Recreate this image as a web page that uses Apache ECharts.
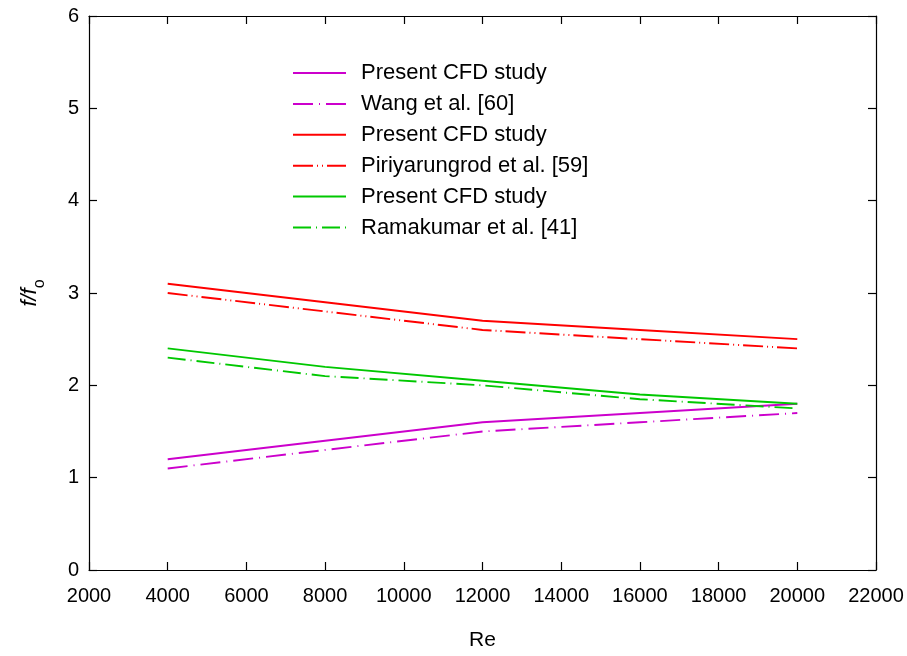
<!DOCTYPE html>
<html>
<head>
<meta charset="utf-8">
<script src="https://cdn.jsdelivr.net/npm/echarts@6/dist/echarts.min.js"></script>
<style>
  html, body { margin: 0; padding: 0; background: #fff; }
  #chart { width: 907px; height: 656px; }
</style>
</head>
<body>
<div id="chart"></div>
<script>
// Reynolds numbers at which f/fo was evaluated
const reValues = [4000, 8000, 12000, 16000, 20000];

// Friction factor ratio, three geometries, CFD vs. correlations
const cfdPurple = [1.2, 1.4, 1.6, 1.7, 1.8];
const wang60 = [1.1, 1.3, 1.5, 1.6, 1.7];
const cfdRed = [3.1, 2.9, 2.7, 2.6, 2.5];
const piriyarungrod59 = [3.0, 2.8, 2.6, 2.5, 2.4];
const cfdGreen = [2.4, 2.2, 2.05, 1.9, 1.8];
const ramakumar41 = [2.3, 2.1, 2.0, 1.85, 1.75];

// Legend labels (trailing spaces keep repeated labels distinct; trimmed on display)
const seriesNames = [
  'Present CFD study',
  'Wang et al. [60]',
  'Present CFD study ',
  'Piriyarungrod et al. [59]',
  'Present CFD study  ',
  'Ramakumar et al. [41]'
];

const xTicks = { min: 2000, max: 22000, step: 2000 };
const yTicks = { min: 0, max: 6, step: 1 };

const PURPLE = '#cc00cc';
const RED = '#ff0000';
const GREEN = '#00c800';
const FONT = '"Liberation Sans", Arial, sans-serif';

function pairs(ys) { return reValues.map((x, i) => [x, ys[i]]); }

function makeSeries(name, ys, color, dash) {
  return {
    name: name,
    type: 'line',
    data: pairs(ys),
    symbol: 'none',
    showSymbol: false,
    animation: false,
    itemStyle: { color: color },
    lineStyle: { color: color, width: 1.9, type: dash }
  };
}

const chart = echarts.init(document.getElementById('chart'), null, { renderer: 'canvas' });

const tickStyle = { show: true, inside: true, length: 8, lineStyle: { color: '#000', width: 1.2 } };
const lineStyleAxis = { show: true, onZero: false, lineStyle: { color: '#000', width: 1.2 } };

chart.setOption({
  backgroundColor: '#fff',
  animation: false,
  textStyle: { fontFamily: FONT },
  grid: { left: 89, right: 31, top: 16, bottom: 86, containLabel: false, outerBoundsMode: 'none' },
  legend: {
    orient: 'vertical',
    left: 292,
    top: 62,
    padding: 0,
    itemWidth: 53,
    itemHeight: 14,
    itemGap: 8.9,
    data: seriesNames,
    itemStyle: { opacity: 0, borderWidth: 0 },
    formatter: function (n) { return n.trim(); },
    textStyle: { fontFamily: FONT, fontSize: 22, lineHeight: 22, color: '#000', padding: [0, 0, 0, 10] },
    selectedMode: false
  },
  xAxis: [
    {
      type: 'value',
      min: xTicks.min, max: xTicks.max, interval: xTicks.step,
      name: 'Re',
      nameLocation: 'middle',
      nameGap: 60,
      nameTextStyle: { fontFamily: FONT, fontSize: 21, color: '#000' },
      axisLine: lineStyleAxis,
      axisTick: tickStyle,
      axisLabel: { margin: 16, fontFamily: FONT, fontSize: 20, color: '#000', formatter: function (v) { return String(v); } },
      splitLine: { show: false }
    },
    {
      type: 'value', position: 'top',
      min: xTicks.min, max: xTicks.max, interval: xTicks.step,
      axisLine: lineStyleAxis,
      axisTick: tickStyle,
      axisLabel: { show: false },
      splitLine: { show: false }
    }
  ],
  yAxis: [
    {
      type: 'value',
      min: yTicks.min, max: yTicks.max, interval: yTicks.step,
      name: '{i|f/f}{s|o}',
      nameLocation: 'middle',
      nameRotate: 90,
      nameGap: 48,
      nameTextStyle: {
        color: '#000',
        rich: {
          i: { fontFamily: FONT, fontSize: 22, fontStyle: 'italic', color: '#000', verticalAlign: 'bottom' },
          s: { fontFamily: FONT, fontSize: 16, color: '#000', verticalAlign: 'bottom', padding: [0, 0, -7, 0] }
        }
      },
      axisLine: lineStyleAxis,
      axisTick: tickStyle,
      axisLabel: { margin: 10, fontFamily: FONT, fontSize: 20, color: '#000' },
      splitLine: { show: false }
    },
    {
      type: 'value', position: 'right',
      min: yTicks.min, max: yTicks.max, interval: yTicks.step,
      axisLine: lineStyleAxis,
      axisTick: tickStyle,
      axisLabel: { show: false },
      splitLine: { show: false }
    }
  ],
  series: [
    makeSeries(seriesNames[0], cfdPurple, PURPLE, 'solid'),
    makeSeries(seriesNames[1], wang60, PURPLE, [20, 6, 1, 6]),
    makeSeries(seriesNames[2], cfdRed, RED, 'solid'),
    makeSeries(seriesNames[3], piriyarungrod59, RED, [20, 4, 1, 4, 1, 4]),
    makeSeries(seriesNames[4], cfdGreen, GREEN, 'solid'),
    makeSeries(seriesNames[5], ramakumar41, GREEN, [18, 5, 1, 5])
  ]
});
</script>
</body>
</html>
